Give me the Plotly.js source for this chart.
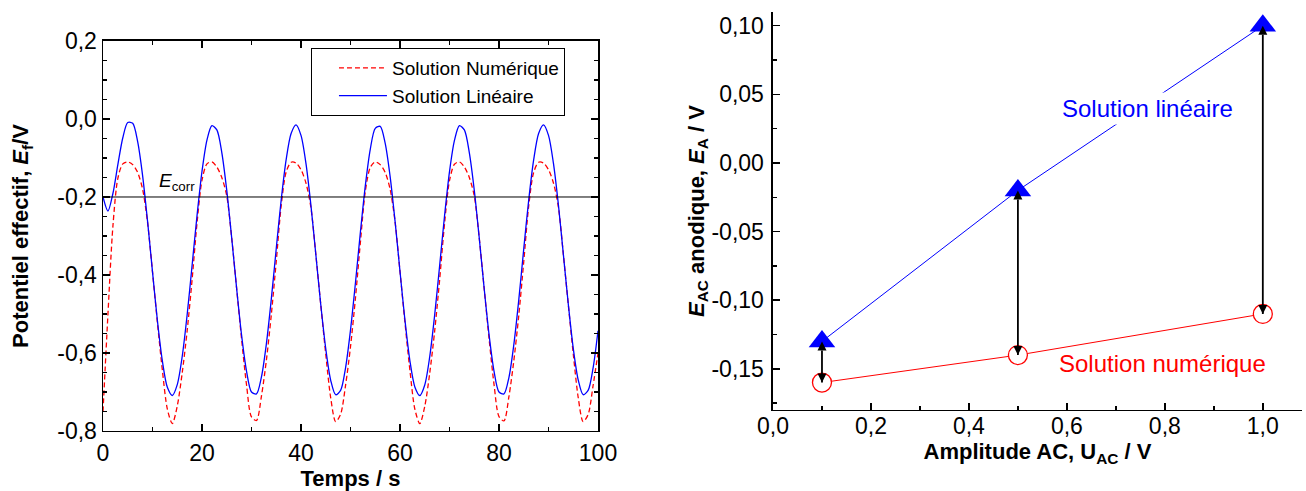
<!DOCTYPE html>
<html>
<head>
<meta charset="utf-8">
<script src="https://cdn.plot.ly/plotly-3.0.1.min.js"></script>
<style>html,body{margin:0;padding:0;background:#fff;}#chart{width:1306px;height:491px;}</style>
</head>
<body>
<div id="chart"></div>
<script>
// ---- Left panel: effective potential vs time ----
const time = [0,1,2,3,4,5,6,7,8,9,10,11,12,13,14,15,16,17,18,19,20,21,22,23,24,25,26,27,28,29,30,31,32,33,34,35,36,37,38,39,40,41,42,43,44,45,46,47,48,49,50,51,52,53,54,55,56,57,58,59,60,61,62,63,64,65,66,67,68,69,70,71,72,73,74,75,76,77,78,79,80,81,82,83,84,85,86,87,88,89,90,91,92,93,94,95,96,97,98,99,100];
const solLineaire = [-0.200,-0.236,-0.191,-0.117,-0.048,-0.009,-0.011,-0.058,-0.145,-0.262,
-0.392,-0.518,-0.621,-0.688,-0.709,-0.681,-0.609,-0.502,-0.375,-0.247,
-0.134,-0.054,-0.017,-0.028,-0.086,-0.183,-0.305,-0.435,-0.555,-0.647,
-0.700,-0.705,-0.662,-0.577,-0.462,-0.332,-0.207,-0.104,-0.037,-0.015,
-0.042,-0.114,-0.221,-0.348,-0.477,-0.589,-0.670,-0.707,-0.696,-0.638,
-0.541,-0.420,-0.290,-0.170,-0.077,-0.024,-0.019,-0.062,-0.147,-0.262,
-0.391,-0.516,-0.620,-0.687,-0.709,-0.682,-0.610,-0.503,-0.377,-0.248,
-0.135,-0.055,-0.017,-0.028,-0.086,-0.182,-0.304,-0.434,-0.554,-0.647,
-0.700,-0.705,-0.663,-0.578,-0.463,-0.333,-0.208,-0.105,-0.037,-0.015,
-0.042,-0.114,-0.220,-0.347,-0.475,-0.588,-0.669,-0.707,-0.696,-0.639,
-0.543];
const solNumerique = [-0.750,-0.500,-0.275,-0.152,-0.115,-0.110,-0.117,-0.137,-0.180,-0.265,
-0.392,-0.523,-0.645,-0.744,-0.781,-0.736,-0.651,-0.543,-0.412,-0.266,
-0.157,-0.115,-0.110,-0.123,-0.150,-0.197,-0.305,-0.435,-0.565,-0.682,
-0.764,-0.773,-0.711,-0.619,-0.502,-0.365,-0.222,-0.136,-0.111,-0.113,
-0.130,-0.164,-0.227,-0.348,-0.477,-0.603,-0.715,-0.776,-0.757,-0.683,
-0.584,-0.459,-0.316,-0.185,-0.124,-0.110,-0.117,-0.137,-0.180,-0.263,
-0.391,-0.522,-0.644,-0.744,-0.781,-0.737,-0.652,-0.544,-0.413,-0.268,
-0.158,-0.116,-0.110,-0.123,-0.150,-0.197,-0.304,-0.434,-0.564,-0.681,
-0.763,-0.774,-0.712,-0.619,-0.503,-0.366,-0.223,-0.137,-0.111,-0.113,
-0.130,-0.164,-0.226,-0.347,-0.476,-0.602,-0.714,-0.776,-0.758,-0.684,
-0.600];
const eCorr = -0.2;
const eCorrSpan = [0, 100];

const leftXTicks = [0, 20, 40, 60, 80, 100];
const leftXLabels = ["0", "20", "40", "60", "80", "100"];
const leftYTicks = [-0.8, -0.6, -0.4, -0.2, 0.0, 0.2];
const leftYLabels = ["-0,8", "-0,6", "-0,4", "-0,2", "0,0", "0,2"];

// ---- Right panel: anodic E_AC vs AC amplitude ----
const amplitude = [0.1, 0.5, 1.0];
const eaLineaire = [-0.13, -0.02, 0.10];
const eaNumerique = [-0.16, -0.14, -0.11];

const rightXTicks = [0.0, 0.2, 0.4, 0.6, 0.8, 1.0];
const rightXLabels = ["0,0", "0,2", "0,4", "0,6", "0,8", "1,0"];
const rightYTicks = [-0.15, -0.10, -0.05, 0.00, 0.05, 0.10];
const rightYLabels = ["-0,15", "-0,10", "-0,05", "0,00", "0,05", "0,10"];

const FONT = "Liberation Sans, Arial, Helvetica, sans-serif";
const BLUE = "#0000ff";
const RED = "#ff0000";

const traces = [
  {x: time, y: solNumerique, type: "scatter", mode: "lines", name: "Solution Numérique",
   line: {color: RED, width: 1.3, dash: "5px,3px", shape: "spline", smoothing: 0.8}, xaxis: "x", yaxis: "y"},
  {x: time, y: solLineaire, type: "scatter", mode: "lines", name: "Solution Linéaire",
   line: {color: BLUE, width: 1.3, shape: "spline", smoothing: 0.8}, xaxis: "x", yaxis: "y"},
  {x: eCorrSpan, y: [eCorr, eCorr], type: "scatter", mode: "lines", showlegend: false,
   line: {color: "#000", width: 1}, xaxis: "x", yaxis: "y", hoverinfo: "skip"},
  {x: amplitude, y: eaLineaire, type: "scatter", mode: "lines+markers", showlegend: false,
   line: {color: BLUE, width: 1},
   marker: {symbol: "triangle-up", size: 23, color: BLUE}, xaxis: "x2", yaxis: "y2"},
  {x: amplitude, y: eaNumerique, type: "scatter", mode: "lines+markers", showlegend: false,
   line: {color: RED, width: 1},
   marker: {symbol: "circle", size: 19, color: "#fff", line: {color: RED, width: 1.3}}, xaxis: "x2", yaxis: "y2"}
];
// double-headed black arrows between the two solutions at each amplitude
for (let i = 0; i < amplitude.length; i++) {
  traces.push({
    x: [amplitude[i], amplitude[i]], y: [eaNumerique[i], eaLineaire[i]],
    type: "scatter", mode: "lines+markers", showlegend: false, hoverinfo: "skip",
    line: {color: "#000", width: 1.8},
    marker: {symbol: ["arrow-down", "arrow-up"], size: 9, color: "#000"},
    xaxis: "x2", yaxis: "y2"
  });
}

function axisCommon() {
  return {
    showline: true, linecolor: "#000", linewidth: 1.5,
    ticks: "inside", ticklen: 7, tickwidth: 1.5, tickcolor: "#000",
    showgrid: false, zeroline: false, tickmode: "array",
    tickfont: {family: FONT, size: 23, color: "#000"},
    fixedrange: true
  };
}

const annotations = [
  {xref: "x", yref: "y", x: 10.9, y: eCorr, xanchor: "left", yanchor: "bottom", yshift: 1,
   showarrow: false, text: "<i>E</i><sub>corr</sub>", font: {family: FONT, size: 19, color: "#000"}},
  {xref: "x2", yref: "y2", x: 0.765, y: 0.040, showarrow: false, text: "Solution linéaire",
   bgcolor: "#fff", borderpad: 2, font: {family: FONT, size: 24, color: BLUE}},
  {xref: "x2", yref: "y2", x: 0.796, y: -0.146, showarrow: false, text: "Solution numérique",
   font: {family: FONT, size: 24, color: RED}}
];

const layout = {
  width: 1306, height: 491,
  margin: {l: 0, r: 0, t: 0, b: 0},
  paper_bgcolor: "#fff", plot_bgcolor: "rgba(0,0,0,0)",
  font: {family: FONT, color: "#000"},
  showlegend: true,
  legend: {x: 0.2381, y: 0.9022, xanchor: "left", yanchor: "top",
           bgcolor: "#fff", bordercolor: "#000", borderwidth: 1,
           font: {family: FONT, size: 19}, itemwidth: 48, indentation: 22, tracegroupgap: 0},
  xaxis: Object.assign(axisCommon(), {
    domain: [0.07887, 0.45789], range: [0, 100], anchor: "y", mirror: "ticks",
    tickvals: leftXTicks, ticktext: leftXLabels, ticklabelstandoff: 1,
    minor: {ticks: "inside", ticklen: 4, tickwidth: 1.5, tickcolor: "#000", tickmode: "linear", tick0: 0, dtick: 10},
    title: {text: "<b>Temps / s</b>", font: {family: FONT, size: 22}, standoff: 5}
  }),
  yaxis: Object.assign(axisCommon(), {
    domain: [0.12220, 0.91650], range: [-0.8, 0.2], anchor: "x", mirror: "ticks",
    tickvals: leftYTicks, ticktext: leftYLabels, ticklabelstandoff: 0,
    minor: {ticks: "inside", ticklen: 4, tickwidth: 1.5, tickcolor: "#000", tickmode: "linear", tick0: 0, dtick: 0.05},
    title: {text: "<b>Potentiel effectif, <i>E</i><sub>f</sub>/V</b>", font: {family: FONT, size: 22}, standoff: 22}
  }),
  xaxis2: Object.assign(axisCommon(), {
    domain: [0.59188, 0.99694], range: [0, 1.08], anchor: "y2",
    tickvals: rightXTicks, ticktext: rightXLabels, ticklabelstandoff: -5,
    minor: {ticks: "inside", ticklen: 4, tickwidth: 1.5, tickcolor: "#000", tickmode: "linear", tick0: 0, dtick: 0.1},
    title: {text: "<b>Amplitude AC, U<sub>AC</sub> / V</b>", font: {family: FONT, size: 22}, standoff: 0}
  }),
  yaxis2: Object.assign(axisCommon(), {
    domain: [0.16497, 0.97556], range: [-0.18, 0.11], anchor: "x2",
    tickvals: rightYTicks, ticktext: rightYLabels, ticklabelstandoff: 3,
    minor: {ticks: "inside", ticklen: 4, tickwidth: 1.5, tickcolor: "#000", tickmode: "linear", tick0: 0, dtick: 0.025},
    title: {text: "<b><i>E</i><sub>AC</sub> anodique, <i>E</i><sub>A</sub> / V</b>", font: {family: FONT, size: 22}, standoff: 0}
  }),
  annotations: annotations
};

Plotly.newPlot("chart", traces, layout, {displayModeBar: false, staticPlot: true});
</script>
</body>
</html>
